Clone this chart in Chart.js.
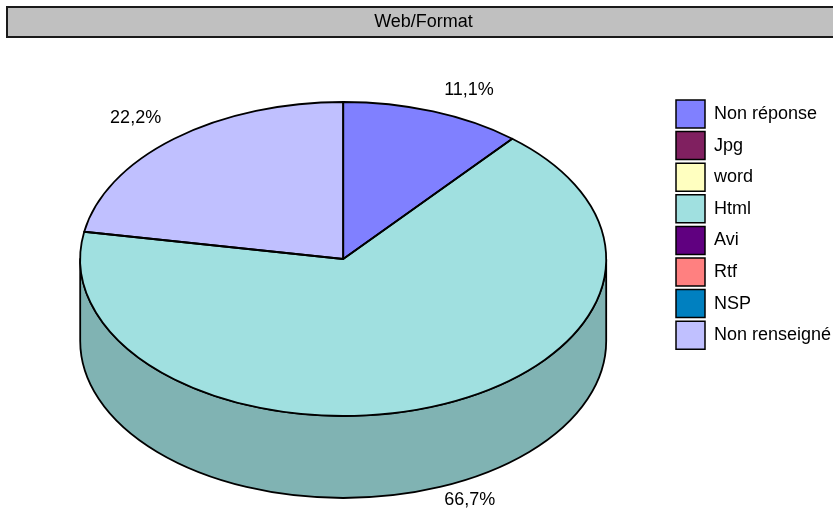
<!DOCTYPE html>
<html>
<head>
<meta charset="utf-8">
<title>Web/Format</title>
<script src="https://cdn.jsdelivr.net/npm/chart.js@4.4.1/dist/chart.umd.min.js"></script>
<style>
    body { margin: 0; background: #fff; }
    #wrap { width: 833px; height: 511px; }
</style>
</head>
<body>
<div id="wrap"><canvas id="formatChart" width="833" height="511"></canvas></div>
<script>
var labels = ['Non réponse', 'Jpg', 'word', 'Html', 'Avi', 'Rtf', 'NSP', 'Non renseigné'];
var counts = [1, 0, 0, 6, 0, 0, 0, 2];
var colors = ['#8080ff', '#802060', '#ffffc0', '#a0e0e0', '#600080', '#ff8080', '#0080c0', '#c0c0ff'];

var FONT = '"Liberation Sans", Arial, sans-serif';

function shade(hex, f) {
    var n = parseInt(hex.slice(1), 16);
    var r = Math.round(((n >> 16) & 255) * f);
    var g = Math.round(((n >> 8) & 255) * f);
    var b = Math.round((n & 255) * f);
    return 'rgb(' + r + ',' + g + ',' + b + ')';
}

function formatPct(v, total) {
    return (v / total * 100).toFixed(1).replace('.', ',') + '%';
}

// grey framed band behind the title
var titleFrame = {
    id: 'titleFrame',
    beforeDraw: function (chart) {
        var t = chart.titleBlock;
        var ctx = chart.ctx;
        ctx.save();
        ctx.fillStyle = '#c0c0c0';
        ctx.strokeStyle = '#1a1a1a';
        ctx.lineWidth = 2;
        ctx.beginPath();
        ctx.rect(t.left - 7, t.top + 7, t.right - t.left + 16, 30);
        ctx.fill();
        ctx.stroke();
        ctx.restore();
    }
};

// ellipse that the flat pie is squashed onto
function projection(chart) {
    var o = chart.options.plugins.pie3d;
    var arc = chart.getDatasetMeta(0).data[0];
    return {
        ax: arc.x,
        ay: arc.y,
        x: arc.x,
        y: arc.y + o.offsetY,
        r: arc.outerRadius,
        ry: arc.outerRadius * o.tilt,
        tilt: o.tilt,
        depth: o.depth
    };
}

var pie3d = {
    id: 'pie3d',
    beforeDatasetsDraw: function (chart) {
        var ctx = chart.ctx;
        var p = projection(chart);
        var arcs = chart.getDatasetMeta(0).data;

        // front walls of the cylinder
        ctx.save();
        ctx.lineWidth = 1.8;
        ctx.strokeStyle = '#000';
        ctx.lineJoin = 'round';
        arcs.forEach(function (el, i) {
            var a = Math.max(el.startAngle, 0);
            var b = Math.min(el.endAngle, Math.PI);
            if (b - a < 1e-6) return;
            ctx.beginPath();
            ctx.ellipse(p.x, p.y, p.r, p.ry, 0, a, b, false);
            ctx.lineTo(p.x + p.r * Math.cos(b), p.y + p.ry * Math.sin(b) + p.depth);
            ctx.ellipse(p.x, p.y + p.depth, p.r, p.ry, 0, b, a, true);
            ctx.closePath();
            ctx.fillStyle = shade(colors[i], 0.8);
            ctx.fill();
            ctx.stroke();
        });
        ctx.restore();

        // top face: let the arcs draw through a squashed transform
        ctx.save();
        ctx.translate(p.x, p.y);
        ctx.scale(1, p.tilt);
        ctx.translate(-p.ax, -p.ay);
    },
    afterDatasetsDraw: function (chart) {
        var ctx = chart.ctx;
        ctx.restore();

        var p = projection(chart);
        var arcs = chart.getDatasetMeta(0).data;
        var total = counts.reduce(function (s, v) { return s + v; }, 0);

        // outlines of the top face, even line width
        ctx.save();
        ctx.lineWidth = 1.8;
        ctx.strokeStyle = '#000';
        ctx.lineJoin = 'round';
        arcs.forEach(function (el) {
            if (el.endAngle - el.startAngle < 1e-6) return;
            ctx.beginPath();
            ctx.moveTo(p.x, p.y);
            ctx.ellipse(p.x, p.y, p.r, p.ry, 0, el.startAngle, el.endAngle, false);
            ctx.closePath();
            ctx.stroke();
        });

        // percentage labels outside the slices
        ctx.font = '18px ' + FONT;
        ctx.fillStyle = '#000';
        ctx.textBaseline = 'middle';
        arcs.forEach(function (el, i) {
            if (!counts[i]) return;
            var mid = (el.startAngle + el.endAngle) / 2;
            var c = Math.cos(mid), s = Math.sin(mid);
            var ex = p.x + p.r * c;
            var ey = p.y + p.ry * s + (s > 0 ? p.depth : 0);
            var tx = ex + (c >= 0 ? 11 : -13);
            var ty = ey + (s >= 0 ? 21 : -21);
            ty = Math.min(ty, chart.height - 11);
            ctx.textAlign = c >= 0 ? 'left' : 'right';
            ctx.fillText(formatPct(counts[i], total), tx, ty);
        });
        ctx.restore();
    }
};

var baseLabels = Chart.overrides.pie.plugins.legend.labels.generateLabels;

new Chart(document.getElementById('formatChart'), {
    type: 'pie',
    data: {
        labels: labels,
        datasets: [{
            data: counts,
            backgroundColor: colors,
            borderWidth: 0,
            radius: 263,
            clip: false
        }]
    },
    options: {
        responsive: false,
        animation: false,
        events: [],
        layout: {
            padding: { left: 14, bottom: 61.8 }
        },
        plugins: {
            title: {
                display: true,
                text: 'Web/Format',
                color: '#000',
                font: { family: FONT, size: 18, weight: 'normal' },
                padding: { top: 11, bottom: 8 }
            },
            legend: {
                position: 'right',
                align: 'center',
                maxWidth: 160.6,
                labels: {
                    boxWidth: 29,
                    boxHeight: 28,
                    padding: 3.6,
                    color: '#000',
                    font: { family: FONT, size: 18 },
                    generateLabels: function (chart) {
                        return baseLabels(chart).map(function (item) {
                            item.lineWidth = 1.5;
                            item.strokeStyle = '#000';
                            return item;
                        });
                    }
                }
            },
            tooltip: { enabled: false },
            pie3d: { tilt: 157 / 263, depth: 82, offsetY: 14.1 }
        }
    },
    plugins: [titleFrame, pie3d]
});
</script>
</body>
</html>
